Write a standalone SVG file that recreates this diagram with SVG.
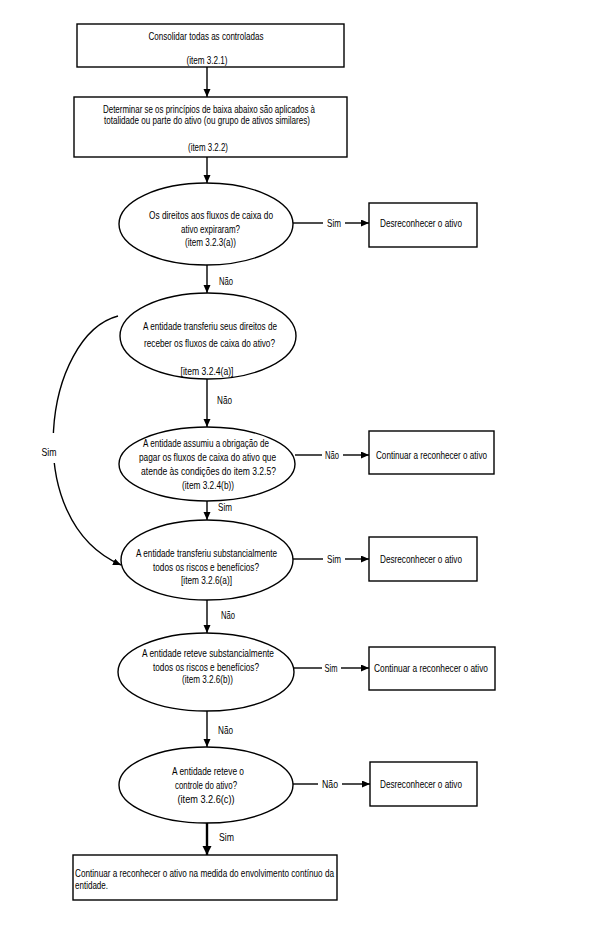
<svg xmlns="http://www.w3.org/2000/svg" width="591" height="937" viewBox="0 0 591 937">
<style>
text{font-family:"Liberation Sans",Arial,sans-serif;font-size:10.8px;fill:#000}
.c{text-anchor:middle}
.shape{fill:#fff;stroke:#000;stroke-width:1.4}
.ln{stroke:#000;stroke-width:1.4;fill:none}
.thick{stroke:#000;stroke-width:2.4;fill:none}
</style>
<defs>
<marker id="arr" markerUnits="userSpaceOnUse" markerWidth="9" markerHeight="8" refX="8" refY="3.5" orient="auto"><path d="M0,0 L8,3.5 L0,7 z" fill="#000"/></marker>
<marker id="arrB" markerUnits="userSpaceOnUse" markerWidth="10" markerHeight="10" refX="9" refY="4.5" orient="auto"><path d="M0,0 L9,4.5 L0,9 z" fill="#000"/></marker>
</defs>
<rect width="591" height="937" fill="#fff"/>
<g id="connectors">
<line class="ln" x1="207" y1="67" x2="207" y2="97" marker-end="url(#arr)"/>
<line class="ln" x1="207" y1="157" x2="207" y2="183" marker-end="url(#arr)"/>
<line class="ln" x1="293" y1="223" x2="323" y2="223"/>
<text x="334" y="226.5" class="c" textLength="14" lengthAdjust="spacingAndGlyphs">Sim</text>
<line class="ln" x1="345" y1="223" x2="369" y2="223" marker-end="url(#arr)"/>
<line class="ln" x1="207" y1="265" x2="207" y2="293" marker-end="url(#arr)"/>
<text x="219" y="284.5" textLength="14" lengthAdjust="spacingAndGlyphs">Não</text>
<line class="ln" x1="207" y1="379" x2="207" y2="427" marker-end="url(#arr)"/>
<text x="217" y="403.5" textLength="15" lengthAdjust="spacingAndGlyphs">Não</text>
<line class="ln" x1="295" y1="455" x2="322" y2="455"/>
<text x="332" y="458.5" class="c" textLength="14" lengthAdjust="spacingAndGlyphs">Não</text>
<line class="ln" x1="343" y1="455" x2="369" y2="455" marker-end="url(#arr)"/>
<path class="ln" d="M118,316 C45,335 18,520 121,565" marker-end="url(#arr)"/>
<rect x="36" y="433" width="26" height="30" fill="#fff"/>
<text x="49" y="455.5" class="c" textLength="15" lengthAdjust="spacingAndGlyphs">Sim</text>
<line class="ln" x1="207" y1="501" x2="207" y2="520" marker-end="url(#arr)"/>
<text x="218" y="510.5" textLength="14" lengthAdjust="spacingAndGlyphs">Sim</text>
<line class="ln" x1="293" y1="559" x2="323" y2="559"/>
<text x="334" y="562.5" class="c" textLength="14" lengthAdjust="spacingAndGlyphs">Sim</text>
<line class="ln" x1="345" y1="559" x2="369" y2="559" marker-end="url(#arr)"/>
<line class="ln" x1="207" y1="600" x2="207" y2="633" marker-end="url(#arr)"/>
<text x="221" y="618.5" textLength="14" lengthAdjust="spacingAndGlyphs">Não</text>
<line class="ln" x1="294" y1="668" x2="322" y2="668"/>
<text x="331" y="671.5" class="c" textLength="13" lengthAdjust="spacingAndGlyphs">Sim</text>
<line class="ln" x1="341" y1="668" x2="369" y2="668" marker-end="url(#arr)"/>
<line class="ln" x1="207" y1="711" x2="207" y2="747" marker-end="url(#arr)"/>
<text x="218" y="733.5" textLength="15" lengthAdjust="spacingAndGlyphs">Não</text>
<line class="ln" x1="293" y1="784" x2="318" y2="784"/>
<text x="330" y="787.5" class="c" textLength="16" lengthAdjust="spacingAndGlyphs">Não</text>
<line class="ln" x1="342" y1="784" x2="370" y2="784" marker-end="url(#arr)"/>
<line class="thick" x1="207" y1="822" x2="207" y2="855" marker-end="url(#arrB)"/>
<text x="219" y="840.5" textLength="15" lengthAdjust="spacingAndGlyphs">Sim</text>
</g>
<g id="n1">
<rect class="shape" x="77" y="24" width="267" height="43"/>
<text x="206" y="39.5" class="c" textLength="115" lengthAdjust="spacingAndGlyphs">Consolidar todas as controladas</text>
<text x="207" y="63.5" class="c" textLength="41" lengthAdjust="spacingAndGlyphs">(item 3.2.1)</text>
</g>
<g id="n2">
<rect class="shape" x="74" y="97" width="273" height="60"/>
<text x="209" y="112.5" class="c" textLength="212" lengthAdjust="spacingAndGlyphs">Determinar se os princípios de baixa abaixo são aplicados à</text>
<text x="207" y="123.5" class="c" textLength="206" lengthAdjust="spacingAndGlyphs">totalidade ou parte do ativo (ou grupo de ativos similares)</text>
<text x="208" y="150.5" class="c" textLength="40" lengthAdjust="spacingAndGlyphs">(item 3.2.2)</text>
</g>
<g id="d1">
<ellipse class="shape" cx="206" cy="224" rx="87" ry="41"/>
<text x="211" y="218.5" class="c" textLength="124" lengthAdjust="spacingAndGlyphs">Os direitos aos fluxos de caixa do</text>
<text x="210.5" y="232.5" class="c" textLength="59" lengthAdjust="spacingAndGlyphs">ativo expiraram?</text>
<text x="210.5" y="245.5" class="c" textLength="51" lengthAdjust="spacingAndGlyphs">(item 3.2.3(a))</text>
</g>
<g id="r1">
<rect class="shape" x="369" y="203" width="108" height="44"/>
<text x="421" y="226.5" class="c" textLength="82" lengthAdjust="spacingAndGlyphs">Desreconhecer o ativo</text>
</g>
<g id="d2">
<ellipse class="shape" cx="208" cy="336" rx="88" ry="43"/>
<text x="210" y="329.5" class="c" textLength="134" lengthAdjust="spacingAndGlyphs">A entidade transferiu seus direitos de</text>
<text x="209.5" y="346.5" class="c" textLength="131" lengthAdjust="spacingAndGlyphs">receber os fluxos de caixa do ativo?</text>
<text x="207" y="374.5" class="c" textLength="53" lengthAdjust="spacingAndGlyphs">[item 3.2.4(a)]</text>
</g>
<g id="d3">
<ellipse class="shape" cx="207" cy="464" rx="88" ry="37"/>
<text x="206" y="446.5" class="c" textLength="126" lengthAdjust="spacingAndGlyphs">A entidade assumiu a obrigação de</text>
<text x="207.5" y="460.5" class="c" textLength="137" lengthAdjust="spacingAndGlyphs">pagar os fluxos de caixa do ativo que</text>
<text x="208.5" y="474.5" class="c" textLength="135" lengthAdjust="spacingAndGlyphs">atende às condições do item 3.2.5?</text>
<text x="208" y="488.5" class="c" textLength="52" lengthAdjust="spacingAndGlyphs">(item 3.2.4(b))</text>
</g>
<g id="r2">
<rect class="shape" x="369" y="431" width="125" height="43"/>
<text x="431.5" y="458.5" class="c" textLength="111" lengthAdjust="spacingAndGlyphs">Continuar a reconhecer o ativo</text>
</g>
<g id="d4">
<ellipse class="shape" cx="207" cy="560" rx="86" ry="40"/>
<text x="206.5" y="556.5" class="c" textLength="141" lengthAdjust="spacingAndGlyphs">A entidade transferiu substancialmente</text>
<text x="206" y="570.5" class="c" textLength="106" lengthAdjust="spacingAndGlyphs">todos os riscos e benefícios?</text>
<text x="206.5" y="583.5" class="c" textLength="51" lengthAdjust="spacingAndGlyphs">[item 3.2.6(a)]</text>
</g>
<g id="r3">
<rect class="shape" x="369" y="537" width="108" height="44"/>
<text x="421" y="562.5" class="c" textLength="82" lengthAdjust="spacingAndGlyphs">Desreconhecer o ativo</text>
</g>
<g id="d5">
<ellipse class="shape" cx="206" cy="672" rx="88" ry="39"/>
<text x="208" y="656.5" class="c" textLength="132" lengthAdjust="spacingAndGlyphs">A entidade reteve substancialmente</text>
<text x="206" y="670.5" class="c" textLength="106" lengthAdjust="spacingAndGlyphs">todos os riscos e benefícios?</text>
<text x="207.5" y="682.5" class="c" textLength="51" lengthAdjust="spacingAndGlyphs">(item 3.2.6(b))</text>
</g>
<g id="r4">
<rect class="shape" x="369" y="647" width="126" height="43"/>
<text x="431" y="671.5" class="c" textLength="114" lengthAdjust="spacingAndGlyphs">Continuar a reconhecer o ativo</text>
</g>
<g id="d6">
<ellipse class="shape" cx="206" cy="785" rx="87" ry="38"/>
<text x="208" y="774.5" class="c" textLength="72" lengthAdjust="spacingAndGlyphs">A entidade reteve o</text>
<text x="206" y="788.5" class="c" textLength="62" lengthAdjust="spacingAndGlyphs">controle do ativo?</text>
<text x="206" y="802.5" class="c" textLength="57" lengthAdjust="spacingAndGlyphs">(item 3.2.6(c))</text>
</g>
<g id="r5">
<rect class="shape" x="370" y="762" width="107" height="44"/>
<text x="421" y="787.5" class="c" textLength="82" lengthAdjust="spacingAndGlyphs">Desreconhecer o ativo</text>
</g>
<g id="n3">
<rect class="shape" x="73" y="855" width="264" height="45"/>
<text x="75" y="876.5" textLength="259" lengthAdjust="spacingAndGlyphs">Continuar a reconhecer o ativo na medida do envolvimento contínuo da</text>
<text x="75" y="888.5" textLength="33" lengthAdjust="spacingAndGlyphs">entidade.</text>
</g>
</svg>
